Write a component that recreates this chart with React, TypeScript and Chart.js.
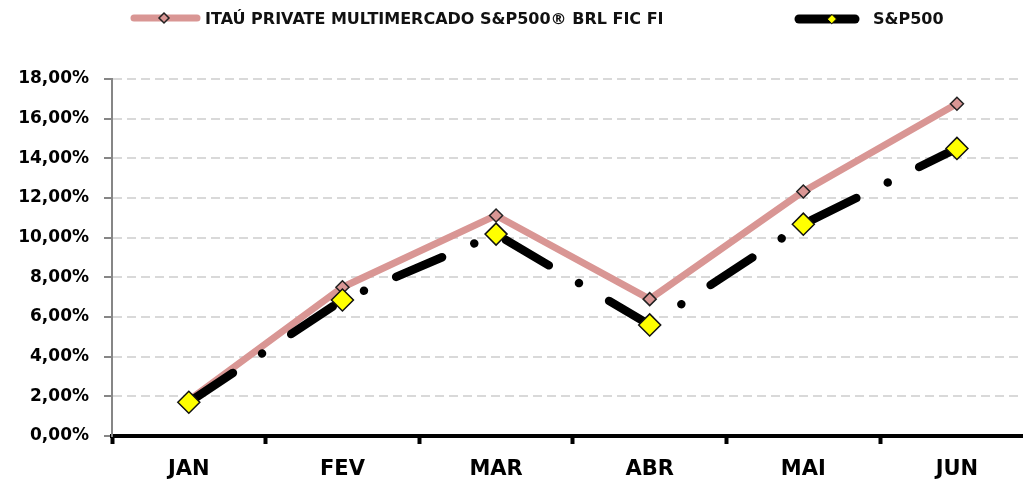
import React, { useEffect, useRef } from "react";
import { Chart, registerables } from "chart.js";

Chart.register(...registerables);

const MONTHS = ["JAN", "FEV", "MAR", "ABR", "MAI", "JUN"];
const FUND_LABEL = "ITAÚ PRIVATE MULTIMERCADO S&P500® BRL FIC FI";
const SP_LABEL = "S&P500";
const FUND_VALUES = [1.8, 7.5, 11.12, 6.9, 12.33, 16.75];
const SP_VALUES = [1.7, 6.86, 10.18, 5.6, 10.68, 14.5];
const Y_TICKS = [0, 2, 4, 6, 8, 10, 12, 14, 16, 18];

const PINK = "#d99694";
const FONT = "'DejaVu Sans', sans-serif";

const legendPlugin = {
  id: "customLegend",
  afterDraw(chart: any) {
    const ctx = chart.ctx as CanvasRenderingContext2D;
    ctx.save();
    const diamond = (x: number, y: number, r: number, fill: string, stroke: string, lw: number) => {
      ctx.beginPath();
      ctx.moveTo(x - r, y);
      ctx.lineTo(x, y - r);
      ctx.lineTo(x + r, y);
      ctx.lineTo(x, y + r);
      ctx.closePath();
      ctx.fillStyle = fill;
      ctx.fill();
      ctx.lineWidth = lw;
      ctx.strokeStyle = stroke;
      ctx.stroke();
    };
    ctx.lineCap = "round";
    ctx.lineWidth = 7;
    ctx.strokeStyle = PINK;
    ctx.beginPath();
    ctx.moveTo(134, 18);
    ctx.lineTo(197, 18);
    ctx.stroke();
    diamond(164, 18, 5, PINK, "#222", 1.5);
    ctx.font = `bold 16px ${FONT}`;
    ctx.fillStyle = "#111";
    ctx.textBaseline = "middle";
    ctx.textAlign = "left";
    ctx.fillText(FUND_LABEL, 205, 20);
    ctx.lineCap = "round";
    ctx.lineWidth = 9;
    ctx.strokeStyle = "#000";
    ctx.beginPath();
    ctx.moveTo(799, 19);
    ctx.lineTo(855, 19);
    ctx.stroke();
    diamond(832, 19, 4.5, "#ffff00", "#000", 1);
    ctx.fillStyle = "#111";
    ctx.fillText(SP_LABEL, 873, 20);
    ctx.restore();
  },
};

export default function App() {
  const ref = useRef<HTMLCanvasElement | null>(null);
  useEffect(() => {
    if (!ref.current) return;
    const chart = new Chart(ref.current, {
      type: "line",
      data: {
        datasets: [
          {
            label: SP_LABEL,
            data: SP_VALUES.map((v, i) => ({ x: i, y: v })),
            borderColor: "#000000",
            borderWidth: 8.5,
            borderCapStyle: "round",
            borderJoinStyle: "round",
            borderDash: [50, 35, 0.01, 35],
            borderDashOffset: -3,
            pointStyle: "rectRot",
            pointRadius: 11,
            pointBackgroundColor: "#ffff00",
            pointBorderColor: "#111",
            pointBorderWidth: 1.5,
            fill: false,
            tension: 0,
            order: 1,
          } as any,
          {
            label: FUND_LABEL,
            data: FUND_VALUES.map((v, i) => ({ x: i, y: v })),
            borderColor: PINK,
            borderWidth: 7,
            borderJoinStyle: "round",
            borderCapStyle: "round",
            pointStyle: "rectRot",
            pointRadius: 6.5,
            pointBackgroundColor: PINK,
            pointBorderColor: "#222",
            pointBorderWidth: 1.5,
            fill: false,
            tension: 0,
            order: 2,
          } as any,
        ],
      },
      options: {
        animation: false,
        responsive: false,
        maintainAspectRatio: false,
        events: [],
        layout: { autoPadding: false, padding: { top: 79, left: 0, right: 0, bottom: 0 } },
        plugins: { legend: { display: false }, tooltip: { enabled: false } },
        scales: {
          x: {
            type: "linear",
            min: -0.5,
            max: 5.43,
            afterBuildTicks: (scale: any) => {
              scale.ticks = MONTHS.map((_, i) => ({ value: i }));
            },
            afterFit: (scale: any) => {
              scale.height = 44;
              scale.paddingLeft = 0;
              scale.paddingRight = 0;
            },
            ticks: {
              autoSkip: false,
              maxRotation: 0,
              padding: 13,
              color: "#000",
              font: { family: FONT, size: 21, weight: "bold" },
              callback: (v: any) => MONTHS[Math.round(Number(v))] ?? "",
            },
            grid: {
              offset: true,
              drawOnChartArea: false,
              drawTicks: true,
              tickLength: 8,
              tickWidth: 4,
              tickColor: "#000",
              color: "#000",
            },
            border: { display: true, color: "#000", width: 4 },
          },
          y: {
            min: 0,
            max: 18,
            afterBuildTicks: (scale: any) => {
              scale.ticks = Y_TICKS.map((v) => ({ value: v }));
            },
            afterFit: (scale: any) => {
              scale.width = 112;
              scale.paddingTop = 0;
              scale.paddingBottom = 0;
            },
            ticks: {
              padding: 15,
              color: "#000",
              font: { family: FONT, size: 17, weight: "bold" },
              callback: (v: any) => Number(v).toFixed(2).replace(".", ",") + "%",
            },
            grid: {
              color: "#d9d9d9",
              lineWidth: 2,
              drawTicks: true,
              tickLength: 8,
              tickColor: "#868686",
              tickWidth: 2,
              tickBorderDash: [],
            } as any,
            border: { display: true, color: "#868686", width: 2, dash: [9, 5] },
          },
        },
      } as any,
      plugins: [legendPlugin],
    });
    return () => chart.destroy();
  }, []);
  return (
    <div style={{ position: "absolute", left: 0, top: 0, width: 1023, height: 480 }}>
      <canvas ref={ref} width={1023} height={480} style={{ display: "block" }} />
    </div>
  );
}
